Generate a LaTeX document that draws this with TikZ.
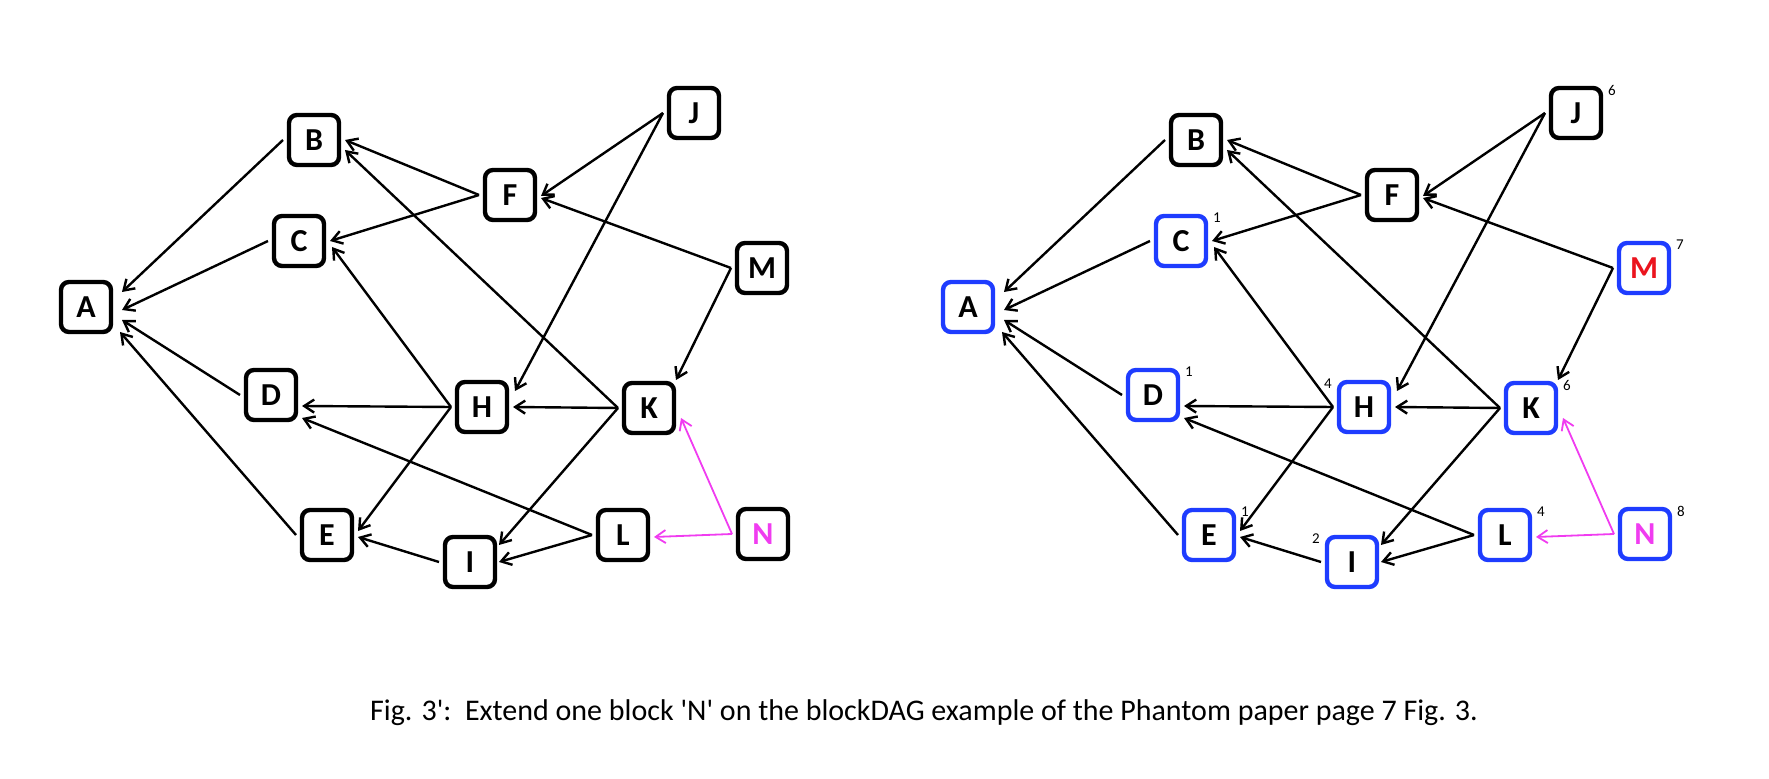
\documentclass[tikz,border=0pt]{standalone}
\usepackage{fontspec}
\setmainfont{Carlito}
\usetikzlibrary{arrows.meta, calc, shadows}

\definecolor{dagblue}{RGB}{30,60,255}
\definecolor{dagred}{RGB}{235,20,30}
\definecolor{dagmagenta}{RGB}{240,60,240}

\begin{document}
\begin{tikzpicture}[
    x=0.5pt, y=-0.5pt,
    block/.style={rectangle, draw, rounded corners=4pt, minimum size=25pt, inner sep=0pt,
        line width=2.2pt, fill=white, outer sep=3pt, font=\fontsize{16}{18}\selectfont\bfseries,
        drop shadow={opacity=0.25, shadow xshift=0.8pt, shadow yshift=-0.8pt}},
    newblock/.style={block, draw=dagblue},
    sup/.style={anchor=center, inner sep=0pt, font=\fontsize{7.5}{8}\selectfont},
    supr/.style={sup, xshift=2.5pt, yshift=-4pt},
    supl/.style={sup, xshift=-2.5pt, yshift=-4pt},
    arrow/.style={-{Straight Barb[length=5pt, width=6.5pt]}, line width=1.2pt},
    newarrow/.style={arrow, draw=dagmagenta, line width=0.9pt},
    caption/.style={font=\fontsize{15}{17}\selectfont}
]
\useasboundingbox (0,0) rectangle (1769,779);

% Left blockDAG
\node[block] (l-A) at (86,307) {A};
\node[block] (l-B) at (314,140) {B};
\node[block] (l-C) at (299,241) {C};
\node[block] (l-D) at (271,395) {D};
\node[block] (l-E) at (327,535) {E};
\node[block] (l-F) at (510,195) {F};
\node[block] (l-H) at (482,407) {H};
\node[block] (l-I) at (470,562) {I};
\node[block] (l-J) at (694,113) {J};
\node[block] (l-K) at (649,408) {K};
\node[block] (l-L) at (623,535) {L};
\node[block] (l-M) at (762,268) {M};
\node[block, text=dagmagenta] (l-N) at (763,534) {N};

% Right blockDAG (scores)
\node[newblock] (r-A) at (968,307) {A};
\node[block] (r-B) at (1196,140) {B};
\node[newblock, label={[supr]north east:1}] (r-C) at (1181,241) {C};
\node[newblock, label={[supr]north east:1}] (r-D) at (1153,395) {D};
\node[newblock, label={[supr]north east:1}] (r-E) at (1209,535) {E};
\node[block] (r-F) at (1392,195) {F};
\node[newblock, label={[supl]north west:4}] (r-H) at (1364,407) {H};
\node[newblock, label={[supl]north west:2}] (r-I) at (1352,562) {I};
\node[block, label={[supr]north east:6}] (r-J) at (1576,113) {J};
\node[newblock, label={[supr]north east:6}] (r-K) at (1531,408) {K};
\node[newblock, label={[supr]north east:4}] (r-L) at (1505,535) {L};
\node[newblock, text=dagred, label={[supr]north east:7}] (r-M) at (1644,268) {M};
\node[newblock, text=dagmagenta, label={[supr]north east:8}] (r-N) at (1645,534) {N};

% Arrows, same for both
\foreach \p in {l, r} {
    \draw[arrow] (\p-B.west) -- ($(\p-A.east)+(5,-15)$);
    \draw[arrow] (\p-C.west) -- ($(\p-A.east)+(5,3)$);
    \draw[arrow] (\p-D.west) -- ($(\p-A.east)+(5,13)$);
    \draw[arrow] (\p-E.west) -- ($(\p-A.east)+(3,25)$);
    \draw[arrow] (\p-F.west) -- (\p-B.east);
    \draw[arrow] (\p-F.west) -- (\p-C.east);
    \draw[arrow] (\p-K.west) -- ($(\p-B.east)+(0,10)$);
    \draw[arrow] (\p-H.west) -- ($(\p-C.east)+(2,6)$);
    \draw[arrow] (\p-H.west) -- ($(\p-D.east)+(0,11)$);
    \draw[arrow] (\p-H.west) -- ($(\p-E.east)+(0,-4)$);
    \draw[arrow] (\p-J.west) -- ($(\p-F.east)+(0,1)$);
    \draw[arrow] (\p-J.west) -- ($(\p-H.east)+(2,-16)$);
    \draw[arrow] (\p-M.west) -- ($(\p-F.east)+(0,3)$);
    \draw[arrow] (\p-M.west) -- ($(\p-K.east)+(-4,-28)$);
    \draw[arrow] (\p-K.west) -- (\p-H.east);
    \draw[arrow] (\p-K.west) -- ($(\p-I.east)+(-2,-17)$);
    \draw[arrow] (\p-L.west) -- ($(\p-D.east)+(0,23)$);
    \draw[arrow] (\p-L.west) -- ($(\p-I.east)+(-2,0)$);
    \draw[arrow] (\p-I.west) -- ($(\p-E.east)+(0,2)$);
    \draw[newarrow] (\p-N.west) -- ($(\p-K.east)+(1,10)$);
    \draw[newarrow] (\p-N.west) -- ($(\p-L.east)+(0,2)$);
}

% Caption
\node[caption] (caption) at (924,713) {Fig. 3\textquotesingle:\ \ Extend one block \textquotesingle N\textquotesingle{} on the blockDAG example of the Phantom paper page 7 Fig. 3.};

\end{tikzpicture}
\end{document}
